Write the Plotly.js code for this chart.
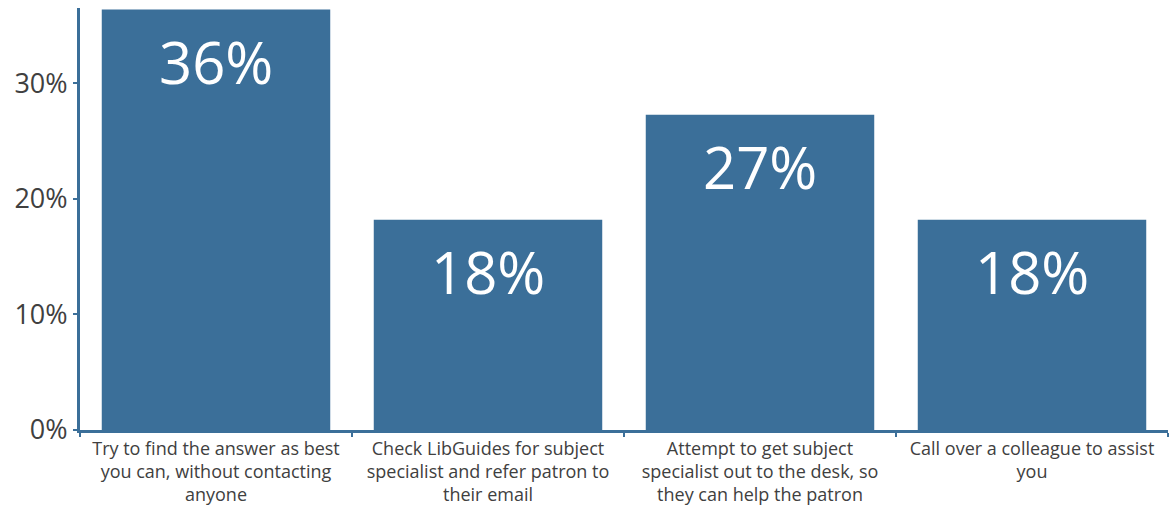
<!DOCTYPE html>
<html>
<head>
<meta charset="utf-8">
<script src="https://cdn.plot.ly/plotly-3.0.1.min.js"></script>
<style>html,body{margin:0;padding:0;background:#fff;}#chart{width:1169px;height:507px;}</style>
</head>
<body>
<div id="chart"></div>
<script>
var categories = [
  "Try to find the answer as best<br>you can, without contacting<br>anyone",
  "Check LibGuides for subject<br>specialist and refer patron to<br>their email",
  "Attempt to get subject<br>specialist out to the desk, so<br>they can help the patron",
  "Call over a colleague to assist<br>you"
];
var values = [36.36, 18.18, 27.27, 18.18];
var valueLabels = ["36%", "18%", "27%", "18%"];
var yTickVals = [0, 10, 20, 30];
var yTickText = ["0%", "10%", "20%", "30%"];

var blue = "rgb(59,111,153)";
var trace = {
  type: "bar",
  x: categories,
  y: values,
  marker: {color: blue},
  hoverinfo: "none"
};
var annotations = categories.map(function(c, i){
  return {
    x: c, y: values[i], xref: "x", yref: "y",
    text: valueLabels[i], showarrow: false,
    yanchor: "middle", yshift: -52,
    font: {family: "Open Sans, sans-serif", size: 58, color: "#ffffff"}
  };
});
var layout = {
  width: 1169, height: 507,
  margin: {l: 80, r: 1, t: 8, b: 77},
  paper_bgcolor: "#ffffff", plot_bgcolor: "#ffffff",
  bargap: 0.16,
  showlegend: false,
  xaxis: {
    showline: true, linecolor: blue, linewidth: 3,
    ticks: "outside", tickson: "boundaries", ticklen: 4, tickwidth: 2, tickcolor: blue,
    tickfont: {family: "Open Sans, sans-serif", size: 18, color: "#404040"},
    showgrid: false, zeroline: false, fixedrange: true
  },
  yaxis: {
    range: [0, 36.5],
    tickvals: yTickVals, ticktext: yTickText,
    showline: true, linecolor: blue, linewidth: 3,
    ticks: "outside", ticklen: 4, tickwidth: 2, tickcolor: blue,
    tickfont: {family: "Open Sans, sans-serif", size: 27, color: "#404040"},
    showgrid: false, zeroline: false, fixedrange: true
  },
  annotations: annotations
};
Plotly.newPlot("chart", [trace], layout, {displayModeBar: false, staticPlot: true});
</script>
</body>
</html>
